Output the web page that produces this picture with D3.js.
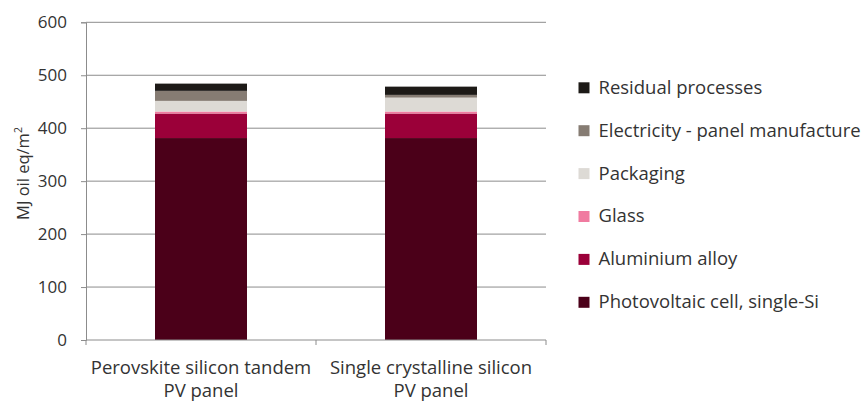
<!DOCTYPE html>
<html lang="en">
<head>
    <meta charset="UTF-8">
    <title>Primary energy demand of PV panels</title>
    <script src="https://d3js.org/d3.v7.min.js"></script>
    <style>
        body { margin: 0; background: #fff; }
        text { font-family: "Open Sans", sans-serif; fill: #333; }
        .x-label { font-size: 18.5px; }
        .legend { font-size: 18.5px; }
        .axis-title { font-size: 16.5px; }
    </style>
</head>
<body>
    <svg width="866" height="403"></svg>

    <script>
        // panels (x categories), each one is two lines of label
        var categories = ["Perovskite silicon tandem PV panel", "Single crystalline silicon PV panel"];
        var categoryLines = [["Perovskite silicon tandem", "PV panel"], ["Single crystalline silicon", "PV panel"]];

        // stacked components, bottom first
        var series = ["Photovoltaic cell, single-Si", "Aluminium alloy", "Glass", "Packaging",
                      "Electricity - panel manufacture", "Residual processes"];
        var seriesColors = ["#4b0019", "#9b0039", "#f07ba0", "#dddad5", "#867c73", "#1d1a17"];

        // values per panel, same order as series
        var tandemValues = [381.4, 46.3, 3.8, 20.1, 18.9, 13.7];
        var singleValues = [381.4, 46.3, 3.8, 26.3, 5.1, 15.6];

        var yTicks = [0, 100, 200, 300, 400, 500, 600];

        var margin = { top: 22.3, left: 86 },
            width = 546 - 86,
            height = 340 - 22.3;

        var svg = d3.select("svg");
        var g = svg.append("g")
                   .attr("transform", "translate(" + margin.left + "," + margin.top + ")");

        var x = d3.scaleBand().domain(categories).range([0, width]).paddingInner(0).paddingOuter(0);
        var y = d3.scaleLinear().domain([0, 600]).range([height, 0]);
        var color = d3.scaleOrdinal().domain(series).range(seriesColors);

        var table = categories.map(function(c, i) {
            var vals = i === 0 ? tandemValues : singleValues;
            var row = { cat: c };
            series.forEach(function(s, j) { row[s] = vals[j]; });
            return row;
        });
        var stacked = d3.stack().keys(series)(table);

        // gridlines
        g.selectAll(".grid")
         .data(yTicks.slice(1))
         .enter().append("line")
         .attr("x1", 0).attr("x2", width)
         .attr("y1", function(d) { return y(d); })
         .attr("y2", function(d) { return y(d); })
         .attr("stroke", "#8c8c8c").attr("stroke-width", 1);

        // bars
        var barW = x.bandwidth() * 0.4;
        g.selectAll(".layer")
         .data(stacked)
         .enter().append("g")
         .attr("fill", function(d) { return color(d.key); })
         .selectAll("rect")
         .data(function(d) { return d; })
         .enter().append("rect")
         .attr("x", function(d) { return x(d.data.cat) + (x.bandwidth() - barW) / 2; })
         .attr("width", barW)
         .attr("y", function(d) { return y(d[1]); })
         .attr("height", function(d) { return y(d[0]) - y(d[1]); });

        // y axis
        var yAxis = g.append("g")
                     .call(d3.axisLeft(y).tickValues(yTicks).tickSize(5).tickPadding(14));
        yAxis.select(".domain").attr("stroke", "#8c8c8c");
        yAxis.selectAll(".tick line").attr("stroke", "#8c8c8c");
        yAxis.selectAll(".tick text").attr("fill", "#333")
             .style("font-family", "Open Sans").style("font-size", "17px");

        // x axis
        g.append("line")
         .attr("x1", 0).attr("x2", width)
         .attr("y1", height).attr("y2", height)
         .attr("stroke", "#8c8c8c");
        g.selectAll(".xtick")
         .data([0, 1, 2])
         .enter().append("line")
         .attr("x1", function(d) { return d * x.step(); })
         .attr("x2", function(d) { return d * x.step(); })
         .attr("y1", height).attr("y2", height + 5)
         .attr("stroke", "#8c8c8c");

        var xLabels = g.selectAll(".xlabel")
                       .data(categories)
                       .enter().append("text")
                       .attr("class", "x-label")
                       .attr("text-anchor", "middle")
                       .attr("transform", function(d) {
                           return "translate(" + (x(d) + x.bandwidth() / 2) + "," + (height + 34) + ")";
                       });
        xLabels.selectAll("tspan")
               .data(function(d, i) { return categoryLines[i]; })
               .enter().append("tspan")
               .attr("x", 0)
               .attr("dy", function(d, i) { return i === 0 ? 0 : 22.7; })
               .text(function(d) { return d; });

        // y title
        var yt = svg.append("text")
                    .attr("class", "axis-title")
                    .attr("transform", "translate(28.5,173.5) rotate(-90)")
                    .attr("text-anchor", "middle");
        yt.append("tspan").text("MJ oil eq/m");
        yt.append("tspan").attr("dy", -7).style("font-size", "10.5px").text("2");

        // legend, top entry is the last series
        var legend = svg.append("g")
                        .attr("class", "legend")
                        .attr("transform", "translate(578.5,87.3)");
        var items = legend.selectAll(".legend-item")
                          .data(series.slice().reverse())
                          .enter().append("g")
                          .attr("transform", function(d, i) { return "translate(0," + (i * 42.9) + ")"; });
        items.append("rect")
             .attr("y", -5).attr("width", 11).attr("height", 11)
             .attr("fill", function(d) { return color(d); });
        items.append("text")
             .attr("x", 20).attr("dy", "0.35em")
             .text(function(d) { return d; });
    </script>
</body>
</html>
